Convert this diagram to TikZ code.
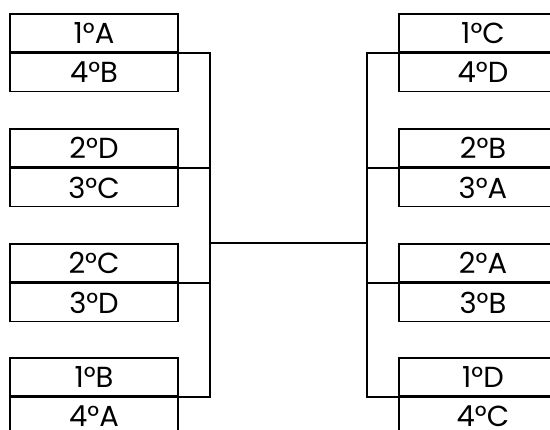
\documentclass[tikz,border=0pt]{standalone}
\usepackage{fontspec}
\setmainfont{Poppins}
\usetikzlibrary{positioning,calc}

\begin{document}
\begin{tikzpicture}[x=1pt, y=-1pt,
		team/.style={draw, rectangle, line width=1.6pt, minimum width=168pt, minimum height=38pt, inner sep=0pt, font=\fontsize{29}{29}\selectfont},
		bracket/.style={line width=1.6pt}]
				\useasboundingbox (0,0) rectangle (550,430);
				
				% Left side
				\node[team] (la1) at (94,33) {1°A};
				\node[team, below=0pt of la1] (lb1) {4°B};
				\node[team] (la2) at (94,148) {2°D};
				\node[team, below=0pt of la2] (lb2) {3°C};
				\node[team] (la3) at (94,263) {2°C};
				\node[team, below=0pt of la3] (lb3) {3°D};
				\node[team] (la4) at (94,377) {1°B};
				\node[team, below=0pt of la4] (lb4) {4°A};
				
				% Right side
				\node[team] (ra1) at (483,33) {1°C};
				\node[team, below=0pt of ra1] (rb1) {4°D};
				\node[team] (ra2) at (483,148) {2°B};
				\node[team, below=0pt of ra2] (rb2) {3°A};
				\node[team] (ra3) at (483,263) {2°A};
				\node[team, below=0pt of ra3] (rb3) {3°B};
				\node[team] (ra4) at (483,377) {1°D};
				\node[team, below=0pt of ra4] (rb4) {4°C};
				
				% Bracket lines
				\coordinate (jl) at (210,243);
				\coordinate (jr) at (367,243);
				\draw[bracket] (la1.south east) -| (jl) |- (la4.south east);
				\draw[bracket] (la2.south east) -- (la2.south east -| jl);
				\draw[bracket] (la3.south east) -- (la3.south east -| jl);
				\draw[bracket] (ra1.south west) -| (jr) |- (ra4.south west);
				\draw[bracket] (ra2.south west) -- (ra2.south west -| jr);
				\draw[bracket] (ra3.south west) -- (ra3.south west -| jr);
				\draw[bracket] (jl) -- (jr);
			\end{tikzpicture}
\end{document}
